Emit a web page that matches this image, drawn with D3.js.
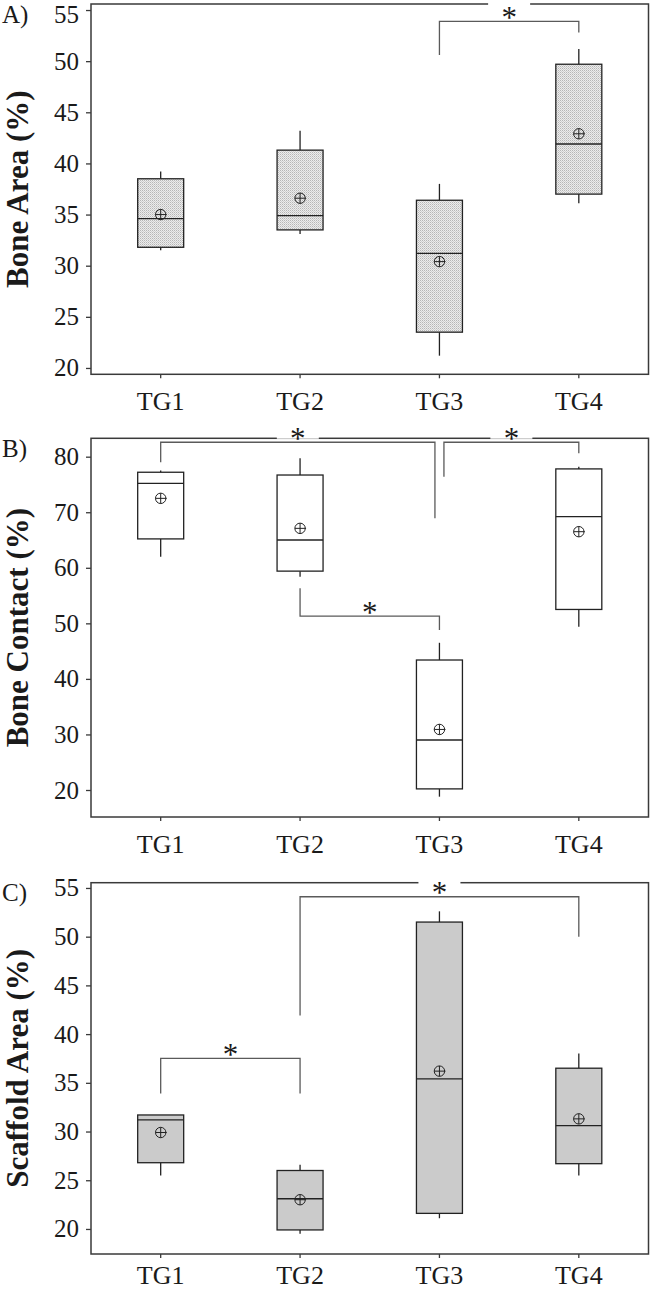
<!DOCTYPE html>
<html>
<head>
<meta charset="utf-8">
<script src="https://cdn.jsdelivr.net/npm/d3@7/dist/d3.min.js"></script>
<style>
  html, body { margin: 0; padding: 0; background: #fff; }
  svg { display: block; }
  text { font-family: "Liberation Serif", "Times New Roman", serif; fill: #1a1a1a; }
</style>
</head>
<body>
<svg id="chart" width="650" height="1290"></svg>
<script>
// ---------- DATA ----------
const categories = ["TG1", "TG2", "TG3", "TG4"];

// Panel A: Bone Area (%)
const titleA = "Bone Area (%)";
const ticksA = [20, 25, 30, 35, 40, 45, 50, 55];
const domainA = [19.38, 55.59];
const whiskerLowA  = [31.5, 33.1, 21.2, 36.1];
const q1A          = [31.8, 33.5, 23.5, 37.0];
const medianA      = [34.6, 34.9, 31.2, 41.9];
const q3A          = [38.5, 41.3, 36.4, 49.7];
const whiskerHighA = [39.2, 43.2, 38.0, 51.2];
const meanA        = [35.0, 36.6, 30.4, 42.9];
const bracketsA = [
  { from: "TG3", to: "TG4", bar: 53.9, fromEnd: 50.6, toEnd: 52.8 }
];

// Panel B: Bone Contact (%)
const titleB = "Bone Contact (%)";
const ticksB = [20, 30, 40, 50, 60, 70, 80];
const domainB = [15.14, 83.31];
const whiskerLowB  = [62.0, 58.4, 18.8, 49.4];
const q1B          = [65.2, 59.4, 20.2, 52.5];
const medianB      = [75.2, 65.0, 29.0, 69.2];
const q3B          = [77.2, 76.7, 43.4, 77.8];
const whiskerHighB = [77.5, 79.7, 46.5, 78.2];
const meanB        = [72.5, 67.1, 30.9, 66.5];
const bracketsB = [
  { from: "TG1", to: "TG3", bar: 82.6, fromEnd: 79.0, toEnd: 68.9 },
  { from: "TG3", to: "TG4", bar: 82.6, fromEnd: 76.4, toEnd: 80.6 },
  { from: "TG2", to: "TG3", bar: 51.3, fromEnd: 56.3, toEnd: 48.8 }
];

// Panel C: Scaffold Area (%)
const titleC = "Scaffold Area (%)";
const ticksC = [20, 25, 30, 35, 40, 45, 50, 55];
const domainC = [17.43, 55.54];
const whiskerLowC  = [25.5, 19.5, 21.1, 25.5];
const q1C          = [26.8, 19.9, 21.6, 26.7];
const medianC      = [31.2, 23.1, 35.4, 30.6];
const q3C          = [31.7, 26.0, 51.5, 36.5];
const whiskerHighC = [31.7, 26.6, 52.6, 38.0];
const meanC        = [29.9, 23.0, 36.2, 31.3];
const bracketsC = [
  { from: "TG1", to: "TG2", bar: 37.5, fromEnd: 33.9, toEnd: 33.9 },
  { from: "TG2", to: "TG4", bar: 54.1, fromEnd: 41.9, toEnd: 50.0 }
];

const panelLabels = ["A)", "B)", "C)"];

// ---------- LAYOUT ----------
const W = 650, H = 1290;
const svg = d3.select("#chart");
const left = 91, right = 648.5;
const panels = [
  { label: panelLabels[0], title: titleA, ticks: ticksA, domain: domainA, top: 4, bottom: 374.3,
    lo: whiskerLowA, q1: q1A, med: medianA, q3: q3A, hi: whiskerHighA, mean: meanA, brackets: bracketsA, fill: "url(#dots)" },
  { label: panelLabels[1], title: titleB, ticks: ticksB, domain: domainB, top: 438.3, bottom: 817,
    lo: whiskerLowB, q1: q1B, med: medianB, q3: q3B, hi: whiskerHighB, mean: meanB, brackets: bracketsB, fill: "#ffffff" },
  { label: panelLabels[2], title: titleC, ticks: ticksC, domain: domainC, top: 882.7, bottom: 1254,
    lo: whiskerLowC, q1: q1C, med: medianC, q3: q3C, hi: whiskerHighC, mean: meanC, brackets: bracketsC, fill: "#cbcbcb" }
];

// dotted texture for panel A
const defs = svg.append("defs");
const pat = defs.append("pattern").attr("id", "dots").attr("patternUnits", "userSpaceOnUse")
  .attr("width", 2).attr("height", 2);
pat.append("rect").attr("width", 2).attr("height", 2).attr("fill", "#ececec");
pat.append("rect").attr("x", 0).attr("y", 0).attr("width", 1).attr("height", 1).attr("fill", "#b6b6b6");
pat.append("rect").attr("x", 1).attr("y", 1).attr("width", 1).attr("height", 1).attr("fill", "#cfcfcf");

const x = d3.scaleBand().domain(categories).range([left, right])
  .paddingInner(0.67).paddingOuter(0.335);
const cx = c => x(c) + x.bandwidth() / 2;

const boxStroke = "#222", bracketStroke = "#5a5a5a", frameStroke = "#3a3a3a";
const tickFont = 25, catFont = 26;

panels.forEach(p => {
  const y = d3.scaleLinear().domain(p.domain).range([p.bottom, p.top]);
  const g = svg.append("g");

  // frame
  g.append("rect").attr("x", left).attr("y", p.top)
    .attr("width", right - left).attr("height", p.bottom - p.top)
    .attr("fill", "none").attr("stroke", frameStroke).attr("stroke-width", 1.5);

  // y axis
  const ya = g.append("g").attr("transform", `translate(${left},0)`)
    .call(d3.axisLeft(y).tickValues(p.ticks).tickSize(5).tickPadding(7).tickFormat(d3.format("d")));
  ya.select(".domain").remove();
  ya.selectAll(".tick line").attr("stroke", frameStroke).attr("stroke-width", 1.3);
  ya.selectAll(".tick text").attr("font-size", tickFont).attr("font-family", "Liberation Serif").attr("fill", "#1a1a1a")
    .attr("dy", function (d) {
      // keep the label box inside the page near the top edge
      const ty = y(d), minY = tickFont * (0.891 - 0.32) + 0.5;
      return ty < minY ? (0.32 * tickFont + (minY - ty)) + "px" : "0.32em";
    });

  // x axis
  const bottomRoom = H - p.bottom;
  const pad = Math.min(13.5, bottomRoom - 4 - 0.71 * catFont - 0.216 * catFont - 0.5);
  const xa = g.append("g").attr("transform", `translate(0,${p.bottom})`)
    .call(d3.axisBottom(x).tickSize(4).tickPadding(pad));
  xa.select(".domain").remove();
  xa.selectAll(".tick line").attr("stroke", frameStroke).attr("stroke-width", 1.3);
  xa.selectAll(".tick text").attr("font-size", catFont).attr("font-family", "Liberation Serif").attr("fill", "#1a1a1a");

  // axis title
  g.append("text")
    .attr("transform", `translate(27.8,${(p.top + p.bottom) / 2}) rotate(-90)`)
    .attr("text-anchor", "middle").attr("font-weight", "bold").attr("font-size", 31)
    .text(p.title);

  // panel label
  g.append("text").attr("x", 2).attr("y", p.top + 18.5).attr("font-size", 25).text(p.label);

  // boxes
  const bw = x.bandwidth();
  categories.forEach((c, i) => {
    const xc = cx(c);
    g.append("line").attr("x1", xc).attr("x2", xc).attr("y1", y(p.hi[i])).attr("y2", y(p.q3[i]))
      .attr("stroke", boxStroke).attr("stroke-width", 1.3);
    g.append("line").attr("x1", xc).attr("x2", xc).attr("y1", y(p.q1[i])).attr("y2", y(p.lo[i]))
      .attr("stroke", boxStroke).attr("stroke-width", 1.3);
    g.append("rect").attr("x", x(c)).attr("y", y(p.q3[i]))
      .attr("width", bw).attr("height", y(p.q1[i]) - y(p.q3[i]))
      .attr("fill", p.fill).attr("stroke", boxStroke).attr("stroke-width", 1.3);
    g.append("line").attr("x1", x(c)).attr("x2", x(c) + bw).attr("y1", y(p.med[i])).attr("y2", y(p.med[i]))
      .attr("stroke", boxStroke).attr("stroke-width", 1.3);
    const my = y(p.mean[i]), r = 5.2;
    g.append("circle").attr("cx", xc).attr("cy", my).attr("r", r)
      .attr("fill", "none").attr("stroke", boxStroke).attr("stroke-width", 1);
    g.append("line").attr("x1", xc - r).attr("x2", xc + r + 0.8).attr("y1", my).attr("y2", my)
      .attr("stroke", boxStroke).attr("stroke-width", 1);
    g.append("line").attr("x1", xc).attr("x2", xc).attr("y1", my - r).attr("y2", my + r)
      .attr("stroke", boxStroke).attr("stroke-width", 1);
  });

  // significance brackets
  p.brackets.forEach(b => {
    let x1 = cx(b.from), x2 = cx(b.to);
    p.brackets.forEach(o => {
      if (o === b || o.bar !== b.bar) return;
      if (o.from === b.to) x2 -= 4.5;
      if (o.to === b.from) x1 += 4.5;
    });
    const by = y(b.bar);
    g.append("path")
      .attr("d", `M${x1},${y(b.fromEnd)}V${by}H${x2}V${y(b.toEnd)}`)
      .attr("fill", "none").attr("stroke", bracketStroke).attr("stroke-width", 1.3);
    const sx = (x1 + x2) / 2, sy = by - 9.5;
    g.append("rect").attr("x", sx - 21).attr("y", sy - 9).attr("width", 42).attr("height", 15)
      .attr("fill", "#fff");
    g.append("text").attr("x", sx).attr("y", sy + 16).attr("text-anchor", "middle")
      .attr("font-size", 31).text("*");
  });
});
</script>
</body>
</html>
